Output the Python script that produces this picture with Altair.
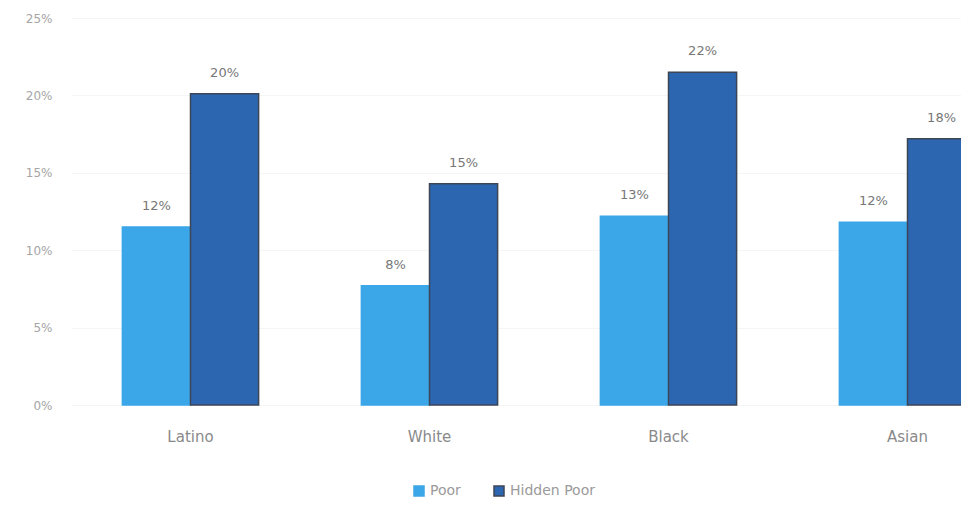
import altair as alt
import pandas as pd

groups = ["Latino", "White", "Black", "Asian"]
series = ["Poor", "Hidden Poor"]
poor = [0.115, 0.077, 0.122, 0.118]
hidden_poor = [0.201, 0.143, 0.215, 0.172]
poor_labels = ["12%", "8%", "13%", "12%"]
hidden_labels = ["20%", "15%", "22%", "18%"]
y_ticks = [0, 0.05, 0.10, 0.15, 0.20, 0.25]

colors = ["#3ba6e8", "#2d66b0"]
strokes = ["#3ba6e8", "#3d4654"]

rows = []
for g, p, h, pl, hl in zip(groups, poor, hidden_poor, poor_labels, hidden_labels):
    rows.append({"group": g, "series": "Poor", "value": p, "label": pl})
    rows.append({"group": g, "series": "Hidden Poor", "value": h, "label": hl})
df = pd.DataFrame(rows)

FONT = "DejaVu Sans"

x = alt.X(
    "group:N",
    sort=groups,
    scale=alt.Scale(range=[-2, 954], paddingInner=0.43, paddingOuter=0.215),
    axis=alt.Axis(title=None, labelAngle=0, ticks=False, domain=False,
                  labelPadding=24, labelFontSize=15, labelColor="#8a8a8a",
                  labelFont=FONT, grid=False),
)
xo = alt.XOffset("series:N", sort=series, scale=alt.Scale(domain=series))
y = alt.Y(
    "value:Q",
    scale=alt.Scale(domain=[0, 0.25]),
    axis=alt.Axis(title=None, format=".0%", values=y_ticks, ticks=False,
                  domain=False, labelPadding=21, labelFontSize=12,
                  labelColor="#a5a5a5", labelFont=FONT, gridColor="#f5f5f5"),
)

base = alt.Chart(df).encode(x=x, xOffset=xo, y=y)

bars = base.mark_bar(strokeWidth=1.5).encode(
    color=alt.Color(
        "series:N", sort=series,
        scale=alt.Scale(domain=series, range=colors),
        legend=alt.Legend(title=None, orient="none", legendX=339, legendY=466,
                          direction="horizontal", symbolType="square",
                          symbolSize=100, labelFontSize=14, labelColor="#9a9a9a",
                          labelFont=FONT, columnPadding=30),
    ),
    stroke=alt.Stroke("series:N", sort=series,
                      scale=alt.Scale(domain=series, range=strokes), legend=None),
)

labels = base.mark_text(dy=-21, fontSize=13, color="#777", font=FONT).encode(
    text="label:N"
)

chart = (
    alt.layer(bars, labels)
    .properties(
        width=888,
        height=387,
        background="white",
        autosize=alt.AutoSizeParams(type="none"),
        padding={"left": 65, "top": 10, "right": 0, "bottom": 93},
    )
    .configure_view(strokeWidth=0, stroke="transparent")
)

chart.save("out.html", embed_options={"renderer": "svg", "actions": False})
